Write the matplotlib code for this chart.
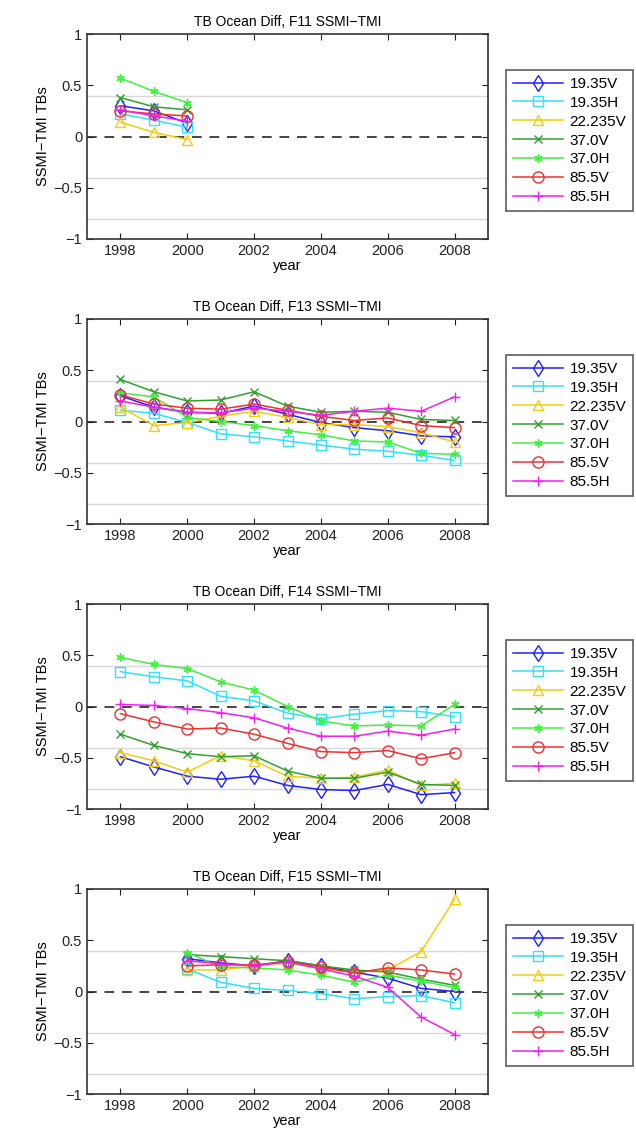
import matplotlib
matplotlib.use("Agg")
import matplotlib.pyplot as plt
import numpy as np

plt.rcParams['font.family'] = ['Liberation Sans', 'DejaVu Sans']

channels = ["19.35V", "19.35H", "22.235V", "37.0V", "37.0H", "85.5V", "85.5H"]
colors = ["#2020ff", "#30e0ff", "#f5cc10", "#30a030", "#40f040", "#f03030", "#f020f0"]
markers = ["d", "s", "^", "x", (6, 2, 0), "o", "+"]
msizes = [8, 6.5, 7, 5.5, 6, 8, 7]

years_f11 = [1998, 1999, 2000]
f11 = [
    [0.30, 0.25, 0.13],
    [0.22, 0.16, 0.09],
    [0.14, 0.04, -0.03],
    [0.38, 0.29, 0.26],
    [0.57, 0.44, 0.33],
    [0.25, 0.22, 0.20],
    [0.26, 0.20, 0.15],
]

years_f13 = list(range(1998, 2009))
f13 = [
    [0.25, 0.14, 0.09, 0.08, 0.15, 0.07, -0.01, -0.06, -0.09, -0.14, -0.15],
    [0.11, 0.08, -0.01, -0.12, -0.15, -0.19, -0.23, -0.27, -0.29, -0.33, -0.38],
    [0.14, -0.04, -0.01, 0.05, 0.10, 0.04, -0.03, -0.03, -0.05, -0.11, -0.20],
    [0.41, 0.29, 0.20, 0.21, 0.29, 0.15, 0.09, 0.10, 0.09, 0.02, 0.01],
    [0.28, 0.24, 0.04, 0.00, -0.04, -0.09, -0.13, -0.19, -0.20, -0.31, -0.32],
    [0.26, 0.17, 0.13, 0.12, 0.17, 0.11, 0.05, 0.01, 0.035, -0.04, -0.06],
    [0.20, 0.14, 0.09, 0.085, 0.13, 0.10, 0.06, 0.10, 0.13, 0.10, 0.24],
]

years_f14 = list(range(1998, 2009))
f14 = [
    [-0.49, -0.59, -0.68, -0.71, -0.68, -0.77, -0.81, -0.82, -0.76, -0.86, -0.84],
    [0.34, 0.29, 0.25, 0.10, 0.055, -0.065, -0.12, -0.075, -0.04, -0.05, -0.10],
    [-0.45, -0.53, -0.64, -0.48, -0.53, -0.68, -0.70, -0.69, -0.62, -0.77, -0.75],
    [-0.27, -0.38, -0.46, -0.49, -0.48, -0.63, -0.70, -0.70, -0.64, -0.76, -0.77],
    [0.48, 0.41, 0.37, 0.24, 0.16, 0.00, -0.14, -0.19, -0.18, -0.19, 0.02],
    [-0.07, -0.15, -0.22, -0.21, -0.27, -0.36, -0.44, -0.45, -0.43, -0.51, -0.45],
    [0.02, 0.01, -0.02, -0.06, -0.11, -0.21, -0.29, -0.29, -0.24, -0.28, -0.22],
]

years_f15 = list(range(2000, 2009))
f15 = [
    [0.32, 0.28, 0.25, 0.30, 0.25, 0.19, 0.13, 0.03, 0.00],
    [0.22, 0.09, 0.03, 0.01, -0.02, -0.07, -0.05, -0.04, -0.11],
    [0.21, 0.21, 0.25, 0.28, 0.22, 0.19, 0.21, 0.39, 0.90],
    [0.36, 0.34, 0.32, 0.30, 0.25, 0.21, 0.19, 0.12, 0.06],
    [0.38, 0.24, 0.23, 0.21, 0.16, 0.09, 0.16, 0.10, 0.04],
    [0.25, 0.26, 0.26, 0.29, 0.24, 0.18, 0.23, 0.21, 0.17],
    [0.30, 0.27, 0.25, 0.29, 0.22, 0.15, 0.04, -0.25, -0.42],
]

panels = [
    ("TB Ocean Diff, F11 SSMI\u2212TMI", years_f11, f11),
    ("TB Ocean Diff, F13 SSMI\u2212TMI", years_f13, f13),
    ("TB Ocean Diff, F14 SSMI\u2212TMI", years_f14, f14),
    ("TB Ocean Diff, F15 SSMI\u2212TMI", years_f15, f15),
]

W, H = 636, 1134
fig = plt.figure(figsize=(W / 100, H / 100), dpi=100)

tops = [34, 319, 604, 889]
ax_h = 205
ax_l, ax_w = 87, 401

for (title, yrs, data), top in zip(panels, tops):
    ax = fig.add_axes([ax_l / W, 1 - (top + ax_h) / H, ax_w / W, ax_h / H])

    for yref in [0.4, -0.4, -0.8]:
        ax.axhline(yref, color="#d8d8d8", lw=1.0, zorder=1)
    ax.axhline(0, color="#444444", lw=1.4, ls=(0, (5, 4)), zorder=1)

    for name, c, m, s, vals in zip(channels, colors, markers, msizes, data):
        ax.plot(yrs, vals, color=c, marker=m, ms=s,
                mfc="none", mec=c, mew=1.0, lw=1.1, label=name, zorder=3)

    ax.set_xlim(1997, 2009)
    ax.set_ylim(-1, 1)
    ax.set_xticks(range(1998, 2009, 2))
    ax.set_yticks([-1, -0.5, 0, 0.5, 1])
    ax.set_yticklabels(["\u22121", "\u22120.5", "0", "0.5", "1"])
    ax.tick_params(direction="in", top=True, right=True, labelsize=10.5,
                   length=4, width=0.8, colors="#222222")
    for sp in ax.spines.values():
        sp.set_linewidth(1.2)
        sp.set_color("#333333")
    ax.set_title(title, fontsize=10, pad=6)
    ax.set_xlabel("year", fontsize=10.5, labelpad=1)
    ax.set_ylabel("SSMI\u2212TMI TBs", fontsize=10.5, labelpad=2)

    leg = ax.legend(loc="center left", bbox_to_anchor=(1.045, 0.48),
                    fontsize=11, frameon=True, fancybox=False,
                    handlelength=3.3, labelspacing=0.32, borderpad=0.45,
                    handletextpad=0.4, borderaxespad=0)
    leg.get_frame().set_edgecolor("#333333")
    leg.get_frame().set_linewidth(1.2)

fig.savefig("out.png", dpi=100)
